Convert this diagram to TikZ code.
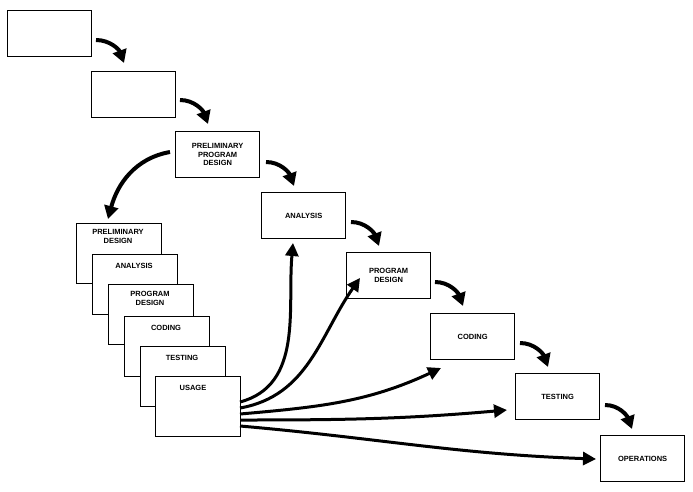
\documentclass[tikz,border=0pt]{standalone}
\usepackage{fontspec}
\setmainfont{Liberation Sans}
\usetikzlibrary{arrows.meta}
\begin{document}
\begin{tikzpicture}[x=1pt,y=-1pt,
 box/.style={draw,line width=1.3pt,fill=white,minimum width=84pt,minimum height=46pt,inner sep=0pt,anchor=north west,align=center,font=\fontsize{7.5}{8.5}\selectfont\bfseries},
 sbox/.style={draw,line width=1.3pt,fill=white,minimum width=85pt,minimum height=60pt,inner sep=0pt,anchor=north west},
 lab/.style={font=\fontsize{7.5}{8.5}\selectfont\bfseries,align=center,anchor=north},
 arr/.style={line width=4pt,-{Triangle[length=13pt,width=14pt]}},
 thin/.style={line width=3pt,-{Triangle[length=13pt,width=13pt]}}]
\useasboundingbox (0,0) rectangle (693,491);
\node[box] (b1) at (7,10) {};
\node[box] (b2) at (91,71) {};
\node[box] (b3) at (175,131) {PRELIMINARY\\PROGRAM\\DESIGN};
\node[box] (b4) at (261,192) {ANALYSIS};
\node[box] (b5) at (346,252) {PROGRAM\\DESIGN};
\node[box] (b6) at (430,313) {CODING};
\node[box] (b7) at (515,373) {TESTING};
\node[box] (b8) at (600,435) {OPERATIONS};
% stack
\node[sbox] (s1) at (76,223) {}; \node[lab] (t1) at (118,226) {PRELIMINARY\\DESIGN};
\node[sbox] (s2) at (92,254) {}; \node[lab] (t2) at (134,260) {ANALYSIS};
\node[sbox] (s3) at (108,284) {}; \node[lab] (t3) at (150,288) {PROGRAM\\DESIGN};
\node[sbox] (s4) at (124,316) {}; \node[lab] (t4) at (166,322) {CODING};
\node[sbox] (s5) at (140,346) {}; \node[lab] (t5) at (182,352) {TESTING};
\node[sbox] (s6) at (155,376) {}; \node[lab] (t6) at (193,382) {USAGE};
% step arrows
\coordinate (c1) at (96,40); \coordinate (e1) at (124,63);
\draw[arr] (c1) to[out=0,in=110] (e1);
\coordinate (c2) at (180,100); \coordinate (e2) at (208,124);
\draw[arr] (c2) to[out=0,in=110] (e2);
\coordinate (c3) at (266,162); \coordinate (e3) at (294,186);
\draw[arr] (c3) to[out=0,in=110] (e3);
\coordinate (c4) at (351,222); \coordinate (e4) at (379,246);
\draw[arr] (c4) to[out=0,in=110] (e4);
\coordinate (c5) at (435,282); \coordinate (e5) at (463,306);
\draw[arr] (c5) to[out=0,in=110] (e5);
\coordinate (c6) at (520,343); \coordinate (e6) at (548,367);
\draw[arr] (c6) to[out=0,in=110] (e6);
\coordinate (c7) at (605,405); \coordinate (e7) at (632,429);
\draw[arr] (c7) to[out=0,in=110] (e7);
% big back arrow
\coordinate (bb) at (170,152); \coordinate (be) at (108,219);
\draw[arr] (bb) to[out=190,in=75] (be);
% feedback arrows from usage
\coordinate (u1) at (240,402); \coordinate (u2) at (240,408); \coordinate (u3) at (240,414); \coordinate (u4) at (240,420); \coordinate (u5) at (240,426);
\coordinate (f1) at (293,243); \coordinate (f2) at (360,278); \coordinate (f3) at (441,368); \coordinate (f4) at (507,410); \coordinate (f5) at (596,459);
\draw[thin] (u1) to[out=15,in=265] (f1);
\draw[thin] (u2) to[out=10,in=235] (f2);
\draw[thin] (u3) to[out=5,in=205] (f3);
\draw[thin] (u4) to[out=0,in=185] (f4);
\draw[thin] (u5) to[out=-5,in=178] (f5);
\end{tikzpicture}
\end{document}
